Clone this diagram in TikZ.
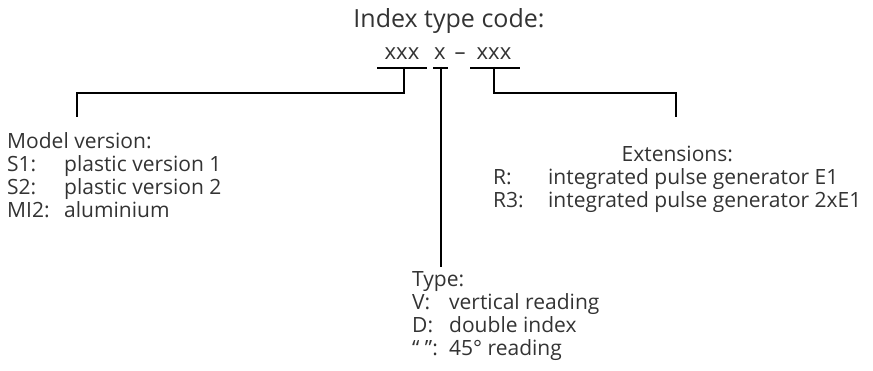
\documentclass[tikz,border=0pt]{standalone}
\usepackage{fontspec}
\setmainfont{Open Sans}
\usetikzlibrary{positioning}
\tikzset{
  txt/.style={inner sep=0pt, text=black!80, font=\fontsize{21}{23}\selectfont},
  codepart/.style={txt, anchor=base},
  block/.style={txt, anchor=base west},
  bar/.style={line width=2pt},
}

\begin{document}
\begin{tikzpicture}[x=1pt, y=-1pt]
    \useasboundingbox (0,0) rectangle (873,371);
    % code line
    \node[codepart, font=\fontsize{25}{28}\selectfont] (title) at (449,28) {Index type code:};
    \node[codepart, font=\fontsize{22}{23}\selectfont] (model code) at (402,60) {xxx};
    \node[codepart, font=\fontsize{22}{23}\selectfont] (type code) at (440,60) {x};
    \node[codepart, font=\fontsize{22}{23}\selectfont] (dash) at (460,60) {–};
    \node[codepart, font=\fontsize{22}{23}\selectfont] (ext code) at (494,60) {xxx};
    \draw[bar] (377,68) -- (427,68);
    \draw[bar] (433,68) -- (448,68);
    \draw[bar] (470,68) -- (520,68);
    % explanations
    \node[block] (model) at (7,149) {\begin{tabular}[t]{@{}p{57pt}@{}l@{}}
        \multicolumn{2}{@{}l@{}}{Model version:}\\
        S1: & plastic version 1\\
        S2: & plastic version 2\\
        MI2: & aluminium
    \end{tabular}};
    \node[block] (type) at (412,287) {\begin{tabular}[t]{@{}p{37pt}@{}l@{}}
        \multicolumn{2}{@{}l@{}}{Type:}\\
        V: & vertical reading\\
        D: & double index\\
        “ ”: & 45° reading
    \end{tabular}};
    \node[block] (ext) at (493,162) {\begin{tabular}[t]{@{}p{55pt}@{}l@{}}
        \multicolumn{2}{@{}c@{}}{Extensions:}\\
        R: & integrated pulse generator E1\\
        R3: & integrated pulse generator 2xE1
    \end{tabular}};
    % connectors
    \coordinate (model tap) at (404,67);
    \coordinate (type tap) at (441,67);
    \coordinate (ext tap) at (494,67);
    \coordinate (model end) at (77,117);
    \coordinate (type end) at (441,267);
    \coordinate (ext end) at (676,117);
    \draw[bar] (model tap) -- ++(0,26) -| (model end);
    \draw[bar] (type tap) -- (type end);
    \draw[bar] (ext tap) -- ++(0,26) -| (ext end);
\end{tikzpicture}
\end{document}
